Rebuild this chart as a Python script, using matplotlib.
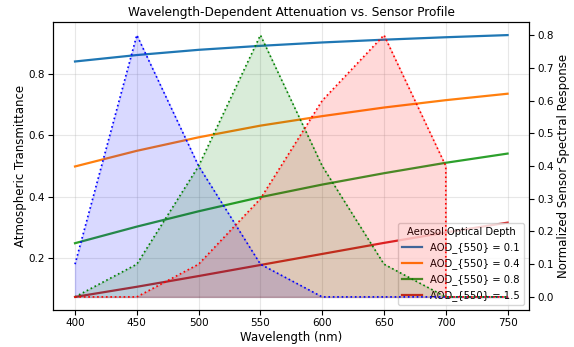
import matplotlib
matplotlib.use("Agg")
import matplotlib.pyplot as plt
import numpy as np

# Wavelength samples (nm)
wavelengths = [400, 450, 500, 550, 600, 650, 700, 750]

# Atmospheric transmittance for each aerosol optical depth
aod_labels = ["AOD_{550} = 0.1", "AOD_{550} = 0.4", "AOD_{550} = 0.8", "AOD_{550} = 1.5"]
trans_01 = [0.840, 0.861, 0.878, 0.891, 0.902, 0.911, 0.919, 0.926]
trans_04 = [0.498, 0.549, 0.593, 0.631, 0.662, 0.690, 0.714, 0.735]
trans_08 = [0.248, 0.302, 0.352, 0.398, 0.439, 0.476, 0.510, 0.540]
trans_15 = [0.073, 0.106, 0.141, 0.177, 0.213, 0.249, 0.283, 0.315]

# Sensor spectral responses
blue_wl = [400, 450, 500, 550, 600, 650, 700, 750]
blue_resp = [0.1, 0.8, 0.4, 0.1, 0.0, 0.0, 0.0, 0.0]
green_wl = [400, 450, 500, 550, 600, 650, 700, 750]
green_resp = [0.0, 0.1, 0.4, 0.8, 0.4, 0.1, 0.0, 0.0]
red_wl = [400, 450, 500, 550, 600, 650, 700, 700, 750]
red_resp = [0.0, 0.0, 0.1, 0.3, 0.6, 0.8, 0.4, 0.0, 0.0]

fig = plt.figure(figsize=(5.74, 3.47), dpi=100)
ax = fig.add_axes([0.093, 0.1066, 0.829, 0.83])

trans_series = [trans_01, trans_04, trans_08, trans_15]
colors = ["tab:blue", "tab:orange", "tab:green", "tab:red"]
for t, c, lab in zip(trans_series, colors, aod_labels):
    ax.plot(wavelengths, t, color=c, lw=1.6, label=lab)

ax.set_xlabel("Wavelength (nm)", fontsize=8.5, labelpad=2)
ax.set_ylabel("Atmospheric Transmittance", fontsize=8.5, labelpad=1)
ax.set_title("Wavelength-Dependent Attenuation vs. Sensor Profile", fontsize=8.7, pad=4)
ax.tick_params(labelsize=7.5, pad=2.5)
ax.set_yticks([0.2, 0.4, 0.6, 0.8])
ax.grid(True, alpha=0.3)
leg = ax.legend(title="Aerosol Optical Depth", loc="lower right", fontsize=7.2, title_fontsize=7.2)

ax2 = ax.twinx()
for wl, r, c in [(blue_wl, blue_resp, "blue"), (green_wl, green_resp, "green"), (red_wl, red_resp, "red")]:
    ax2.plot(wl, r, color=c, ls=":", lw=1.2)
    ax2.fill_between(wl, 0, r, color=c, alpha=0.15)
ax2.set_ylabel("Normalized Sensor Spectral Response", fontsize=8.5, labelpad=2)
ax2.tick_params(labelsize=7.5, pad=2.5)
ax2.set_yticks(np.arange(0, 0.81, 0.1))

ax.set_xlim(382.5, 767.5)
ax.set_xticks([400, 450, 500, 550, 600, 650, 700, 750])

fig.savefig("out.png", dpi=100)
